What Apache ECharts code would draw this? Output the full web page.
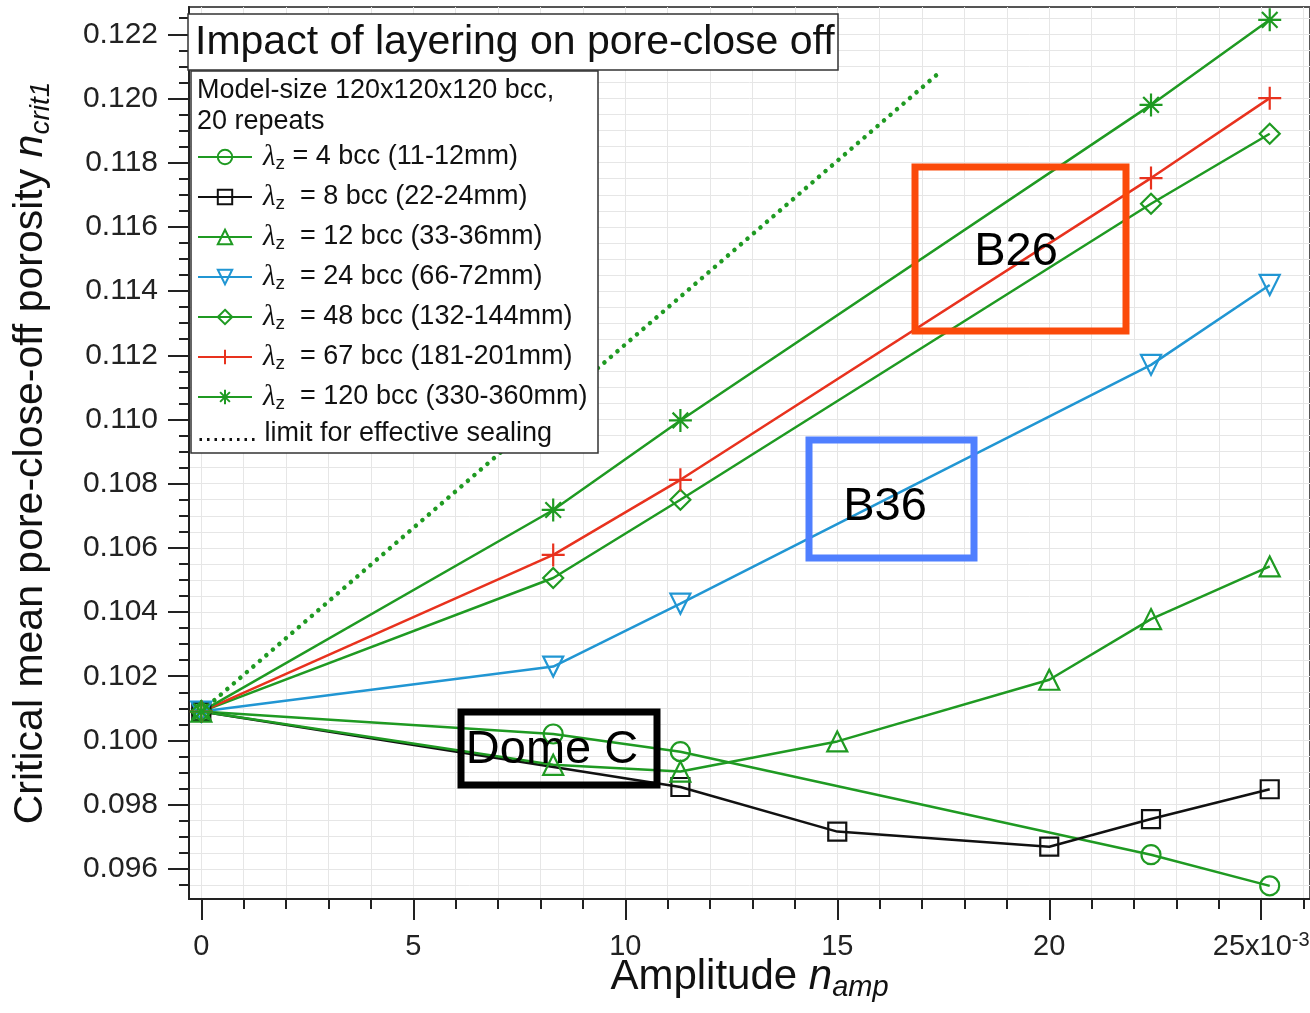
<!DOCTYPE html>
<html>
<head>
<meta charset="utf-8">
<title>Impact of layering on pore-close off</title>
<script src="https://cdn.jsdelivr.net/npm/echarts@6/dist/echarts.min.js"></script>
<style>
  html, body { margin: 0; padding: 0; background: #fff; }
  #main { width: 1310px; height: 1013px; }
</style>
</head>
<body>
<div id="main"></div>
<script>
// amplitude n_amp, in units of 10^-3
var ampFive = [0, 8.3, 11.3, 22.4, 25.2];
var ampSquare = [0, 11.3, 15, 20, 22.4, 25.2];
var ampTriangle = [0, 8.3, 11.3, 15, 20, 22.4, 25.2];
var ampLimit = [0, 17.4];

// critical mean pore-close-off porosity
var lambda4 = [0.1009, 0.1002, 0.09965, 0.09644, 0.09547];
var lambda8 = [0.1009, 0.09855, 0.09716, 0.09669, 0.09755, 0.09848];
var lambda12 = [0.1009, 0.09924, 0.09903, 0.09997, 0.10189, 0.10378, 0.10542];
var lambda24 = [0.1009, 0.1023, 0.10426, 0.1117, 0.11419];
var lambda48 = [0.1009, 0.10506, 0.1075, 0.11672, 0.1189];
var lambda67 = [0.1009, 0.10578, 0.10812, 0.11752, 0.12001];
var lambda120 = [0.1009, 0.10718, 0.10997, 0.1198, 0.12245];
var limitLine = [0.1009, 0.1208];

var seriesNames = [
  'λz = 4 bcc (11-12mm)',
  'λz  = 8 bcc (22-24mm)',
  'λz  = 12 bcc (33-36mm)',
  'λz  = 24 bcc (66-72mm)',
  'λz  = 48 bcc (132-144mm)',
  'λz  = 67 bcc (181-201mm)',
  'λz  = 120 bcc (330-360mm)'
];

var xTickLabels = [0, 5, 10, 15, 20, 25];
var yTickLabels = [0.096, 0.098, 0.100, 0.102, 0.104, 0.106, 0.108, 0.110, 0.112, 0.114, 0.116, 0.118, 0.120, 0.122];

var xMinor = [];
for (var i = 0; i <= 26; i++) xMinor.push(i);
var yMinor = [];
for (var j = 0; j <= 56; j++) yMinor.push(Math.round((0.095 + j * 0.0005) * 1e5) / 1e5);

var green = '#1f9a22';
var red = '#e8321e';
var blue = '#2196d3';
var black = '#111111';

var downTri = 'path://M0,0L10,0L5,9Z';
var plusSym = 'path://M5,0L5,10M0,5L10,5';
var starSym = 'path://M5,0L5,10M0,5L10,5M1.6,1.6L8.4,8.4M8.4,1.6L1.6,8.4';

function pairs(xs, ys) {
  return xs.map(function (x, k) { return [x, ys[k]]; });
}

function makeSeries(name, xs, ys, color, symbol, size) {
  return {
    name: name,
    type: 'line',
    data: pairs(xs, ys),
    symbol: symbol,
    symbolSize: size,
    lineStyle: { color: color, width: 2.5 },
    itemStyle: { color: 'rgba(0,0,0,0)', borderColor: color, borderWidth: 2.2 },
    emphasis: { disabled: true },
    z: 2
  };
}

var font = 'Liberation Sans, Arial, sans-serif';

var chart = echarts.init(document.getElementById('main'));

var option = {
  animation: false,
  textStyle: { fontFamily: font },
  grid: {
    left: 189, right: 0, top: 7, bottom: 114,
    outerBoundsMode: 'none',
    containLabel: false,
    show: true, borderColor: '#555', borderWidth: 2
  },
  xAxis: [{
    type: 'value',
    min: -0.29, max: 26.15,
    axisLine: { onZero: false, lineStyle: { color: '#222', width: 2 } },
    axisTick: { customValues: xMinor, length: 10, lineStyle: { color: '#222', width: 2 } },
    splitLine: { show: true, customValues: xMinor, lineStyle: { color: '#e6e6e6', width: 1 } },
    axisLabel: {
      customValues: xTickLabels,
      margin: 31,
      color: '#222',
      formatter: function (v) {
        return v === 25 ? '{t|25x10}{p|-3}' : '{t|' + v + '}';
      },
      rich: {
        t: { fontSize: 29, lineHeight: 34, color: '#222' },
        p: { fontSize: 20, lineHeight: 20, verticalAlign: 'top', color: '#222' }
      }
    },
    name: '{t|Amplitude }{i|n}{s|amp}',
    nameLocation: 'middle',
    nameGap: 53,
    nameMoveOverlap: false,
    nameTextStyle: {
      rich: {
        t: { fontSize: 42, lineHeight: 50, color: '#111' },
        i: { fontSize: 42, lineHeight: 50, fontStyle: 'italic', color: '#111' },
        s: { fontSize: 29, lineHeight: 29, fontStyle: 'italic', verticalAlign: 'bottom', color: '#111' }
      }
    }
  }, {
    type: 'value',
    position: 'bottom',
    min: -0.29, max: 26.15,
    axisLine: { show: false, onZero: false },
    axisTick: { customValues: xTickLabels, length: 21, lineStyle: { color: '#222', width: 2 } },
    axisLabel: { show: false },
    splitLine: { show: false }
  }],
  yAxis: [{
    type: 'value',
    min: 0.09506, max: 0.12285,
    axisLine: { onZero: false, lineStyle: { color: '#222', width: 2 } },
    axisTick: { customValues: yMinor, length: 10, lineStyle: { color: '#222', width: 2 } },
    splitLine: { show: true, customValues: yMinor, lineStyle: { color: '#e6e6e6', width: 1 } },
    axisLabel: {
      customValues: yTickLabels,
      margin: 31,
      fontSize: 30,
      padding: [5, 0, 0, 0],
      color: '#222',
      formatter: function (v) { return v.toFixed(3); }
    },
    name: '{t|Critical mean pore-close-off porosity }{i|n}{s|crit1}',
    nameLocation: 'middle',
    nameGap: 134,
    nameTextStyle: {
      rich: {
        t: { fontSize: 41, lineHeight: 48, color: '#111' },
        i: { fontSize: 41, lineHeight: 48, fontStyle: 'italic', color: '#111' },
        s: { fontSize: 28, lineHeight: 28, fontStyle: 'italic', verticalAlign: 'bottom', color: '#111' }
      }
    }
  }, {
    type: 'value',
    position: 'left',
    min: 0.09506, max: 0.12285,
    axisLine: { show: false, onZero: false },
    axisTick: { customValues: yTickLabels, length: 21, lineStyle: { color: '#222', width: 2 } },
    axisLabel: { show: false },
    splitLine: { show: false }
  }],
  legend: {
    data: seriesNames,
    orient: 'vertical',
    left: 197,
    top: 141,
    padding: 0,
    itemWidth: 54,
    itemHeight: 18,
    itemGap: 8,
    selectedMode: false,
    z: 6,
    formatter: function (name) {
      return '{l|λ}{s|z}{t|' + name.slice(2) + '}';
    },
    textStyle: {
      lineHeight: 32,
      rich: {
        l: { fontFamily: 'Liberation Serif', fontStyle: 'italic', fontSize: 29, lineHeight: 32, padding: [0, 0, 0, 6], color: '#111' },
        s: { fontSize: 19, lineHeight: 20, verticalAlign: 'bottom', color: '#111' },
        t: { fontSize: 27, lineHeight: 32, color: '#111' }
      }
    }
  },
  graphic: [
    { type: 'rect', z: 5, shape: { x: 188, y: 14, width: 650, height: 56 },
      style: { fill: '#fff', stroke: '#333', lineWidth: 1.5 } },
    { type: 'text', z: 6, x: 195, y: 43,
      style: { text: 'Impact of layering on pore-close off', font: '41px ' + font, fill: '#111', verticalAlign: 'middle' } },
    { type: 'rect', z: 5, shape: { x: 191, y: 71, width: 407, height: 382 },
      style: { fill: '#fff', stroke: '#333', lineWidth: 1.5 } },
    { type: 'text', z: 6, x: 197, y: 91,
      style: { text: 'Model-size 120x120x120 bcc,', font: '27px ' + font, fill: '#111', verticalAlign: 'middle' } },
    { type: 'text', z: 6, x: 197, y: 122,
      style: { text: '20 repeats', font: '27px ' + font, fill: '#111', verticalAlign: 'middle' } },
    { type: 'text', z: 6, x: 197, y: 434,
      style: { text: '........ limit for effective sealing', font: '27px ' + font, fill: '#111', verticalAlign: 'middle' } },

    { type: 'rect', z: 7, shape: { x: 915, y: 167, width: 211, height: 164 },
      style: { fill: 'none', stroke: '#fb4a0a', lineWidth: 7 } },
    { type: 'text', z: 7, x: 1016, y: 252,
      style: { text: 'B26', font: '47px ' + font, fill: '#000', align: 'center', verticalAlign: 'middle' } },
    { type: 'rect', z: 7, shape: { x: 809, y: 440, width: 165, height: 118 },
      style: { fill: 'none', stroke: '#4f7fff', lineWidth: 7 } },
    { type: 'text', z: 7, x: 885, y: 507,
      style: { text: 'B36', font: '47px ' + font, fill: '#000', align: 'center', verticalAlign: 'middle' } },
    { type: 'rect', z: 7, shape: { x: 461, y: 712, width: 196, height: 73 },
      style: { fill: 'none', stroke: '#000', lineWidth: 7 } },
    { type: 'text', z: 7, x: 552, y: 750,
      style: { text: 'Dome C', font: '47px ' + font, fill: '#000', align: 'center', verticalAlign: 'middle' } }
  ],
  series: [
    {
      name: 'limit',
      type: 'line',
      data: pairs(ampLimit, limitLine),
      symbol: 'none',
      lineStyle: { color: green, width: 4.5, type: [0.1, 8.5], cap: 'round' },
      emphasis: { disabled: true },
      z: 1
    },
    makeSeries(seriesNames[0], ampFive, lambda4, green, 'circle', 19),
    makeSeries(seriesNames[1], ampSquare, lambda8, black, 'rect', 18),
    makeSeries(seriesNames[2], ampTriangle, lambda12, green, 'triangle', 20),
    makeSeries(seriesNames[3], ampFive, lambda24, blue, downTri, 20),
    makeSeries(seriesNames[4], ampFive, lambda48, green, 'diamond', 20),
    makeSeries(seriesNames[5], ampFive, lambda67, red, plusSym, 23),
    makeSeries(seriesNames[6], ampFive, lambda120, green, starSym, 23)
  ]
};

chart.setOption(option);
</script>
</body>
</html>
